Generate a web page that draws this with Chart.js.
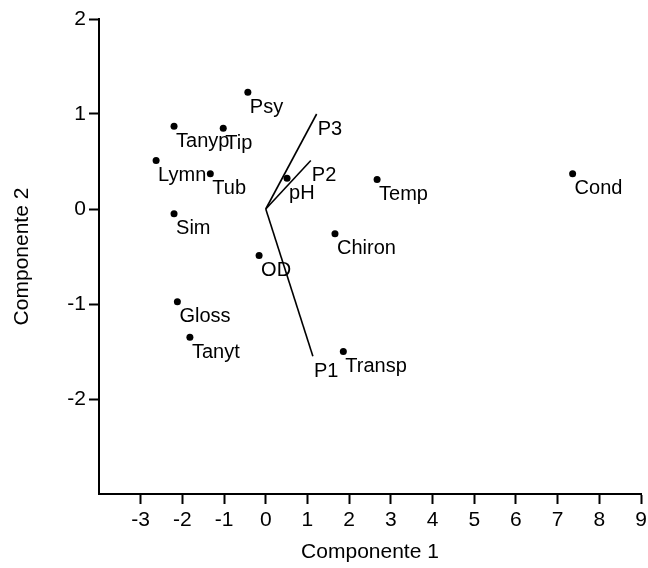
<!DOCTYPE html>
<html>
<head>
<meta charset="utf-8">
<script src="https://cdn.jsdelivr.net/npm/chart.js@4/dist/chart.umd.min.js"></script>
<style>
  html, body { margin: 0; padding: 0; background: #fff; }
  #wrap { width: 648px; height: 568px; }
</style>
</head>
<body>
<div id="wrap"><canvas id="pca"></canvas></div>
<script>
// scores on the first two components
const names = ['Psy', 'Tanyp', 'Tip', 'Lymn', 'Tub', 'Sim', 'Gloss', 'Tanyt', 'OD', 'pH', 'Chiron', 'Temp', 'Cond', 'Transp'];
const comp1 = [-0.43, -2.20, -1.02, -2.63, -1.33, -2.20, -2.12, -1.82, -0.16, 0.51, 1.66, 2.67, 7.36, 1.86];
const comp2 = [1.23, 0.87, 0.85, 0.51, 0.37, -0.05, -0.975, -1.35, -0.49, 0.325, -0.26, 0.31, 0.37, -1.50];

// loading vectors drawn from the origin
const vecNames = ['P1', 'P2', 'P3'];
const vecX = [1.13, 1.08, 1.22];
const vecY = [-1.55, 0.51, 1.0];

const xTicks = [-3, -2, -1, 0, 1, 2, 3, 4, 5, 6, 7, 8, 9];
const yTicks = [-2, -1, 0, 1, 2];

const FONT = 'Liberation Sans, Arial, Helvetica, sans-serif';

const datasets = [{
  label: 'scores',
  data: comp1.map((x, i) => ({ x: x, y: comp2[i] })),
  pointRadius: 3.5,
  pointBackgroundColor: '#000',
  pointBorderWidth: 0,
  showLine: false
}];
vecNames.forEach((n, i) => {
  datasets.push({
    label: n,
    data: [{ x: 0, y: 0 }, { x: vecX[i], y: vecY[i] }],
    showLine: true,
    borderColor: '#000',
    borderWidth: 1.6,
    pointRadius: 0
  });
});

// text next to each point and at the tip of each vector
const pointLabels = {
  id: 'pointLabels',
  afterDatasetsDraw(chart) {
    const ctx = chart.ctx;
    ctx.save();
    ctx.font = '20px ' + FONT;
    ctx.fillStyle = '#000';
    ctx.textAlign = 'left';
    ctx.textBaseline = 'alphabetic';
    chart.getDatasetMeta(0).data.forEach((el, i) => {
      ctx.fillText(names[i], el.x + 2, el.y + 20.5);
    });
    vecNames.forEach((n, i) => {
      const el = chart.getDatasetMeta(i + 1).data[1];
      ctx.fillText(n, el.x + 1, el.y + 20.5);
    });
    ctx.restore();
  }
};

new Chart(document.getElementById('pca'), {
  type: 'scatter',
  data: { datasets: datasets },
  plugins: [pointLabels],
  options: {
    responsive: true,
    maintainAspectRatio: false,
    animation: false,
    layout: { padding: { top: 19, right: 7, left: 0, bottom: 0 } },
    plugins: { legend: { display: false }, tooltip: { enabled: false } },
    scales: {
      x: {
        type: 'linear',
        min: -4,
        max: 9,
        afterBuildTicks: s => { s.ticks = xTicks.map(v => ({ value: v })); },
        afterFit: s => { s.height = 74; s.paddingRight = 0; s.paddingLeft = 0; },
        border: { display: true, color: '#000', width: 2 },
        grid: { drawOnChartArea: false, drawTicks: true, tickLength: 10, tickWidth: 2, tickColor: '#000' },
        ticks: { color: '#000', padding: 4, font: { family: FONT, size: 21 }, maxRotation: 0 },
        title: { display: true, text: 'Componente 1', color: '#000', font: { family: FONT, size: 21 }, padding: { top: 0, bottom: 3 } }
      },
      y: {
        type: 'linear',
        min: -3,
        max: 2,
        afterBuildTicks: s => { s.ticks = yTicks.map(v => ({ value: v })); },
        afterFit: s => { s.width = 99; },
        border: { display: true, color: '#000', width: 2 },
        grid: { drawOnChartArea: false, drawTicks: true, tickLength: 10, tickWidth: 2, tickColor: '#000' },
        ticks: { color: '#000', padding: 3, font: { family: FONT, size: 21 } },
        title: { display: true, text: 'Componente 2', color: '#000', font: { family: FONT, size: 21 }, padding: { top: 10, bottom: 0 } }
      }
    }
  }
});
</script>
</body>
</html>
